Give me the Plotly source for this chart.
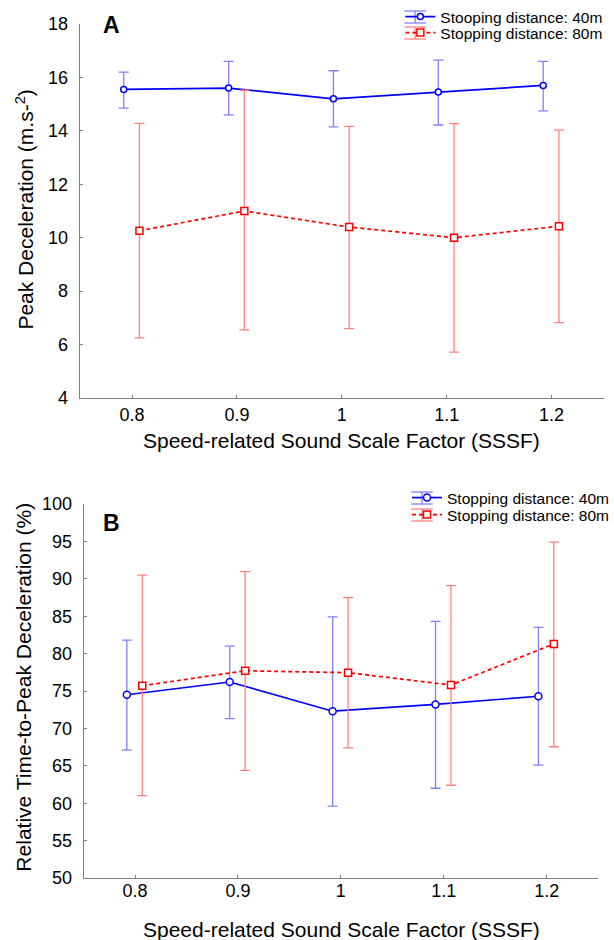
import plotly.graph_objects as go

# ---------------- data ----------------
sssf = [0.8, 0.9, 1.0, 1.1, 1.2]
x_tick_vals = [0.8, 0.9, 1.0, 1.1, 1.2]
x_tick_text = ["0.8", "0.9", "1", "1.1", "1.2"]

# Panel A: Peak deceleration (m.s-2)
peak_40_mean = [15.55, 15.6, 15.2, 15.45, 15.7]
peak_40_upper = [16.2, 16.6, 16.25, 16.65, 16.6]
peak_40_lower = [14.85, 14.6, 14.15, 14.22, 14.75]
peak_80_mean = [10.26, 11.0, 10.4, 10.0, 10.43]
peak_80_upper = [14.28, 15.52, 14.17, 14.27, 14.03]
peak_80_lower = [6.25, 6.55, 6.6, 5.72, 6.82]

# Panel B: Relative time-to-peak deceleration (%)
ttp_40_mean = [74.5, 76.2, 72.3, 73.2, 74.3]
ttp_40_upper = [81.8, 81.0, 84.9, 84.3, 83.5]
ttp_40_lower = [67.1, 71.3, 59.6, 62.0, 65.1]
ttp_80_mean = [75.7, 77.7, 77.45, 75.8, 81.3]
ttp_80_upper = [90.5, 90.95, 87.5, 89.1, 94.9]
ttp_80_lower = [61.0, 64.4, 67.4, 62.4, 67.55]

peak_y_ticks = [4, 6, 8, 10, 12, 14, 16, 18]
ttp_y_ticks = [50, 55, 60, 65, 70, 75, 80, 85, 90, 95, 100]

legend_names_a = ["Stooping distance: 40m", "Stopping distance: 80m"]
legend_names_b = ["Stopping distance: 40m", "Stopping distance: 80m"]

# ---------------- style ----------------
W, H = 614, 940
FONT = "Arial, 'Liberation Sans', sans-serif"
BLUE, BLUE_ERR = "#0000ff", "#8080ff"
RED, RED_ERR = "#ff0000", "#ff8080"
OFF_40, OFF_80 = -0.008, 0.007


def fx(p):
    return p / W


def fy(p):
    return 1 - p / H


def err(mean, up, lo):
    return ([u - m for u, m in zip(up, mean)], [m - l for m, l in zip(mean, lo)])


def series(x_off, mean, up, lo, color, ecolor, dash, symbol, msize, name, xa, ya, legend):
    plus, minus = err(mean, up, lo)
    return go.Scatter(
        x=[s + x_off for s in sssf], y=mean, name=name,
        mode="lines+markers", xaxis=xa, yaxis=ya, legend=legend,
        line=dict(color=color, width=1.7, dash=dash),
        marker=dict(symbol=symbol, size=msize, color="white",
                    line=dict(color=color, width=1.5)),
        error_y=dict(type="data", symmetric=False, array=plus, arrayminus=minus,
                     color=ecolor, thickness=1.3, width=5),
    )


fig = go.Figure()
fig.add_trace(series(OFF_40, peak_40_mean, peak_40_upper, peak_40_lower, BLUE, BLUE_ERR,
                     "solid", "circle", 6, legend_names_a[0], "x", "y", "legend"))
fig.add_trace(series(OFF_80, peak_80_mean, peak_80_upper, peak_80_lower, RED, RED_ERR,
                     "4px,3px", "square", 7, legend_names_a[1], "x", "y", "legend2"))
fig.add_trace(series(OFF_40, ttp_40_mean, ttp_40_upper, ttp_40_lower, BLUE, BLUE_ERR,
                     "solid", "circle", 7, legend_names_b[0], "x2", "y2", "legend3"))
fig.add_trace(series(OFF_80, ttp_80_mean, ttp_80_upper, ttp_80_lower, RED, RED_ERR,
                     "4px,3px", "square", 7, legend_names_b[1], "x2", "y2", "legend4"))

axis_common = dict(showline=True, linecolor="#808080", linewidth=1, ticks="inside",
                   ticklen=3, tickcolor="#808080", showgrid=False, zeroline=False,
                   mirror=False, tickfont=dict(family=FONT, size=18, color="black"),
                   automargin=False)

fig.update_layout(
    width=W, height=H, margin=dict(l=0, r=0, t=0, b=0),
    paper_bgcolor="white", plot_bgcolor="white",
    font=dict(family=FONT, color="black"),
    xaxis=dict(domain=[fx(81), 1.0], range=[0.75, 1.25], tickvals=x_tick_vals,
               ticktext=x_tick_text, anchor="y", ticklabelstandoff=0, **axis_common),
    yaxis=dict(domain=[fy(398), fy(24)], range=[4, 18], tickvals=peak_y_ticks,
               anchor="x", ticklabelstandoff=7, **axis_common),
    xaxis2=dict(domain=[fx(85), fx(608)], range=[0.75, 1.25], tickvals=x_tick_vals,
                ticktext=x_tick_text, anchor="y2", ticklabelstandoff=-4, **axis_common),
    yaxis2=dict(domain=[fy(878), fy(504)], range=[50, 100], tickvals=ttp_y_ticks,
                anchor="x2", ticklabelstandoff=7, **axis_common),
    showlegend=True,
)

leg_common = dict(xanchor="left", yanchor="middle", bgcolor="rgba(0,0,0,0)",
                  font=dict(family=FONT, size=15.5, color="black"), borderwidth=0)
LA_X, LB_X = 407, 414
fig.update_layout(
    legend=dict(x=fx(LA_X), y=fy(17), **leg_common),
    legend2=dict(x=fx(LA_X), y=fy(33), **leg_common),
    legend3=dict(x=fx(LB_X), y=fy(498), **leg_common),
    legend4=dict(x=fx(LB_X), y=fy(515), **leg_common),
)

# error-bar look for the legend glyphs (decoration)
for lx, ly, c in [(LA_X, 17, BLUE_ERR), (LA_X, 33, RED_ERR),
                  (LB_X, 498, BLUE_ERR), (LB_X, 515, RED_ERR)]:
    cx = lx + 15
    for dy in (-6, 6):
        fig.add_shape(type="line", xref="paper", yref="paper",
                      x0=fx(cx - 11), x1=fx(cx + 11), y0=fy(ly + dy), y1=fy(ly + dy),
                      line=dict(color=c, width=1.3))
    fig.add_shape(type="line", xref="paper", yref="paper",
                  x0=fx(cx), x1=fx(cx), y0=fy(ly - 6), y1=fy(ly + 6),
                  line=dict(color=c, width=1.3))

ann = [
    dict(text="<b>A</b>", x=fx(113), y=fy(25), size=23),
    dict(text="<b>B</b>", x=fx(113), y=fy(523), size=23),
    dict(text="Speed-related Sound Scale Factor (SSSF)", x=fx(347), y=fy(440), size=21),
    dict(text="Speed-related Sound Scale Factor (SSSF)", x=fx(347), y=fy(929), size=21),
]
for a in ann:
    fig.add_annotation(text=a["text"], x=a["x"], y=a["y"], xref="paper", yref="paper",
                       xanchor="center", yanchor="middle", showarrow=False,
                       font=dict(family=FONT, size=a["size"], color="black"))
for text, x, y in [("Peak Deceleration (m.s-<sup>2</sup>)", 25, 210),
                   ("Relative Time-to-Peak Deceleration (%)", 23, 687)]:
    fig.add_annotation(text=text, x=fx(x), y=fy(y), xref="paper", yref="paper",
                       xanchor="center", yanchor="middle", showarrow=False, textangle=-90,
                       font=dict(family=FONT, size=21, color="black"))

fig.write_html("out.html", post_script="document.body.style.margin='0';",
               config={"displayModeBar": False})
